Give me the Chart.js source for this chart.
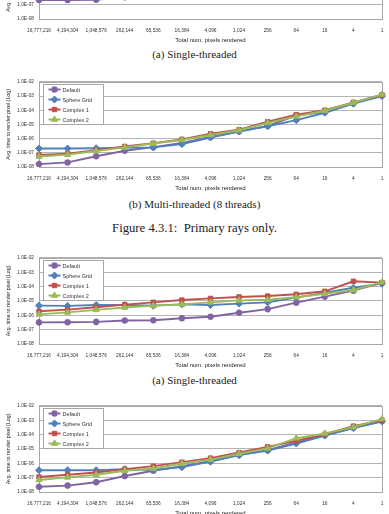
<!DOCTYPE html>
<html>
<head>
<meta charset="utf-8">
<script src="https://cdn.jsdelivr.net/npm/chart.js@4.4.0/dist/chart.umd.min.js"></script>
<style>
  html, body { margin: 0; padding: 0; background: #fff; }
  body { width: 389px; height: 514px; position: relative; overflow: hidden; }
  .chart { position: absolute; left: 0; width: 389px; }
  .cap { position: absolute; left: 0; width: 389px; text-align: center; white-space: nowrap; line-height: 1;
         font-family: "Liberation Serif", "DejaVu Serif", serif; color: #222; }
</style>
</head>
<body>
<div class="chart" style="top:-74px"><canvas id="fig1a" width="389" height="121"></canvas></div>
<div class="cap" style="top:49px;font-size:11px">(a) Single-threaded</div>

<div class="chart" style="top:74px"><canvas id="fig1b" width="389" height="121"></canvas></div>
<div class="cap" style="top:199px;font-size:11px">(b) Multi-threaded (8 threads)</div>
<div class="cap" style="top:222px;font-size:12.7px">Figure 4.3.1:&nbsp; Primary rays only.</div>

<div class="chart" style="top:250px"><canvas id="fig2a" width="389" height="122"></canvas></div>
<div class="cap" style="top:375px;font-size:11px">(a) Single-threaded</div>

<div class="chart" style="top:398px"><canvas id="fig2b" width="389" height="122"></canvas></div>

<script>
// categories and ticks
var xLabels = ["16,777,216", "4,194,304", "1,048,576", "262,144", "65,536", "16,384",
  "4,096", "1,024", "256", "64", "16", "4", "1"];
var yTickValues = [1e-8, 1e-7, 1e-6, 1e-5, 1e-4, 1e-3, 1e-2];
var yTickLabels = ["1.0E-08", "1.0E-07", "1.0E-06", "1.0E-05", "1.0E-04", "1.0E-03", "1.0E-02"];
var seriesNames = ["Default", "Sphere Grid", "Complex 1", "Complex 2"];

// Figure 4.3.1 (a) single-threaded (mostly above the page edge)
var fig1aDefault  = [2.2e-7, 2.2e-7, 2.3e-7, 3.5e-7, 5e-7, 9e-7, 2e-6, 5e-6, 1.2e-5, 3.5e-5, 9e-5, 3e-4, 1.1e-3];
var fig1aSphere   = [3.5e-6, 3.5e-6, 3.8e-6, 4e-6, 4e-6, 4.5e-6, 5e-6, 6e-6, 9e-6, 2e-5, 5e-5, 1.5e-4, 1.2e-3];
var fig1aComplex1 = [1.5e-6, 2e-6, 2.8e-6, 4e-6, 6e-6, 9e-6, 1.2e-5, 1.6e-5, 2.2e-5, 4e-5, 9e-5, 3e-4, 1.3e-3];
var fig1aComplex2 = [9e-7, 1.3e-6, 2e-6, 3e-6, 4e-6, 5e-6, 7e-6, 1e-5, 1.5e-5, 3.5e-5, 8e-5, 2.8e-4, 1.3e-3];

// Figure 4.3.1 (b) multi-threaded
var fig1bDefault  = [1.6e-8, 2.1e-8, 5.7e-8, 1.4e-7, 2.5e-7, 5e-7, 1.3e-6, 3.2e-6, 8e-6, 4.2e-5, 7.8e-5, 3.1e-4, 1.15e-3];
var fig1bSphere   = [2.0e-7, 2.0e-7, 2.1e-7, 2.3e-7, 2.4e-7, 4.1e-7, 1.2e-6, 3.3e-6, 7.4e-6, 2.0e-5, 6.7e-5, 2.9e-4, 1.0e-3];
var fig1bComplex1 = [7e-8, 8.7e-8, 1.55e-7, 2.8e-7, 4.8e-7, 8.9e-7, 2.2e-6, 4.3e-6, 1.55e-5, 4.9e-5, 1.0e-4, 3.6e-4, 1.2e-3];
var fig1bComplex2 = [5.5e-8, 7.5e-8, 1.35e-7, 2.4e-7, 4.5e-7, 8e-7, 1.8e-6, 3.9e-6, 1.3e-5, 3.7e-5, 9.2e-5, 3.4e-4, 1.3e-3];

// next figure (a) single-threaded
var fig2aDefault  = [3.2e-7, 3.3e-7, 3.5e-7, 4.3e-7, 4.5e-7, 6.2e-7, 8e-7, 1.5e-6, 2.7e-6, 7.6e-6, 2.0e-5, 5.2e-5, 1.8e-4];
var fig2aSphere   = [4.7e-6, 4.5e-6, 5.2e-6, 5.2e-6, 4.7e-6, 5.8e-6, 5.2e-6, 6.5e-6, 8e-6, 1.7e-5, 3.8e-5, 8.3e-5, 1.6e-4];
var fig2aComplex1 = [1.9e-6, 2.5e-6, 3.6e-6, 5.5e-6, 8e-6, 1.15e-5, 1.5e-5, 1.9e-5, 2.2e-5, 2.9e-5, 4.7e-5, 2.35e-4, 1.9e-4];
var fig2aComplex2 = [1.15e-6, 1.6e-6, 2.4e-6, 3.5e-6, 4.7e-6, 5.8e-6, 8e-6, 1.1e-5, 1.2e-5, 1.8e-5, 3.2e-5, 5.7e-5, 2.0e-4];

// next figure (b) multi-threaded (cut at bottom)
var fig2bDefault  = [2.3e-8, 2.8e-8, 4.8e-8, 1.3e-7, 3.0e-7, 6.3e-7, 1.4e-6, 3.9e-6, 8.1e-6, 2.8e-5, 9e-5, 3e-4, 8.5e-4];
var fig2bSphere   = [3.3e-7, 3.3e-7, 3.3e-7, 3.9e-7, 3.4e-7, 5.4e-7, 1.3e-6, 3.7e-6, 7.7e-6, 2.4e-5, 8.5e-5, 2.8e-4, 8.5e-4];
var fig2bComplex1 = [1.1e-7, 1.6e-7, 2.3e-7, 3.9e-7, 6.3e-7, 1.2e-6, 2.3e-6, 5.6e-6, 1.4e-5, 3.7e-5, 1.05e-4, 3.9e-4, 1.0e-3];
var fig2bComplex2 = [6.9e-8, 1.05e-7, 1.6e-7, 3.0e-7, 4.3e-7, 9.6e-7, 1.8e-6, 4.6e-6, 1.1e-5, 5.6e-5, 1.2e-4, 3.3e-4, 1.2e-3];

var colors = ["#8064a2", "#4f81bd", "#c0504d", "#9bbb59"];
var markers = ["star", "rectRot", "rect", "triangle"];
var radii = [3.3, 3.5, 3.1, 3.6];

Chart.defaults.font.family = '"Liberation Sans", Arial, sans-serif';
Chart.defaults.color = "#333";

// plot area frame
var plotFrame = {
  id: "plotFrame",
  beforeDatasetsDraw: function (chart) {
    var a = chart.chartArea, ctx = chart.ctx;
    ctx.save();
    ctx.strokeStyle = "#a6a6a6";
    ctx.lineWidth = 1;
    ctx.strokeRect(Math.round(a.left) + 0.5, Math.round(a.top) + 0.5,
      Math.round(a.right - a.left), Math.round(a.bottom - a.top));
    ctx.restore();
  }
};

// legend box drawn inside the plot area, like the Excel one
var boxLegend = {
  id: "boxLegend",
  afterDatasetsDraw: function (chart) {
    var a = chart.chartArea, ctx = chart.ctx;
    var x0 = Math.round(a.left) + 4.5, y0 = Math.round(a.top) + 2.5;
    ctx.save();
    ctx.fillStyle = "#fff";
    ctx.fillRect(x0, y0, 60, 40);
    ctx.strokeStyle = "#a6a6a6";
    ctx.lineWidth = 1;
    ctx.strokeRect(x0, y0, 60, 40);
    chart.data.datasets.forEach(function (ds, i) {
      var y = y0 + 5 + i * 10;
      ctx.strokeStyle = ds.borderColor;
      ctx.lineWidth = 1.9;
      ctx.beginPath();
      ctx.moveTo(x0 + 5, y);
      ctx.lineTo(x0 + 17, y);
      ctx.stroke();
      ctx.fillStyle = ds.pointBackgroundColor;
      ctx.lineWidth = ds.pointBorderWidth;
      Chart.helpers.drawPoint(ctx, { pointStyle: ds.pointStyle, radius: ds.pointRadius, borderWidth: ds.pointBorderWidth, rotation: 0 }, x0 + 11, y);
      ctx.fillStyle = "#333";
      ctx.font = '5.5px "Liberation Sans", Arial, sans-serif';
      ctx.textBaseline = "middle";
      ctx.textAlign = "left";
      ctx.fillText(ds.label, x0 + 19, y + 0.5);
    });
    ctx.restore();
  }
};

function makeChart(id, series) {
  var datasets = seriesNames.map(function (name, i) {
    return {
      label: name,
      data: series[i],
      borderColor: colors[i],
      backgroundColor: colors[i],
      pointBackgroundColor: colors[i],
      pointBorderColor: colors[i],
      pointStyle: markers[i],
      pointRadius: radii[i],
      pointBorderWidth: i === 0 ? 2 : 1,
      borderWidth: 1.9,
      tension: 0,
      order: 3 - i
    };
  });
  return new Chart(document.getElementById(id), {
    type: "line",
    data: { labels: xLabels, datasets: datasets },
    plugins: [plotFrame, boxLegend],
    options: {
      responsive: false,
      animation: false,
      devicePixelRatio: 1,
      layout: { padding: { top: 6, right: 7, left: 0, bottom: 0 } },
      plugins: { legend: { display: false }, tooltip: { enabled: false } },
      scales: {
        x: {
          offset: false,
          grid: { display: false },
          border: { display: false },
          ticks: { autoSkip: false, maxRotation: 0, minRotation: 0, padding: 1, font: { size: 4.8 }, color: "#333" },
          title: { display: true, text: "Total num. pixels rendered", font: { size: 6 }, color: "#222", padding: { top: 2, bottom: 3 } },
          afterFit: function (s) { s.height = 28; }
        },
        y: {
          type: "logarithmic",
          min: 1e-8,
          max: 1e-2,
          afterBuildTicks: function (s) {
            s.ticks = yTickValues.map(function (v) { return { value: v }; });
          },
          ticks: {
            callback: function (v, i) { return yTickLabels[i]; },
            padding: 5, font: { size: 4.8 }, color: "#333"
          },
          grid: { color: "#b4b4b4", lineWidth: 1, drawTicks: false },
          border: { display: false },
          title: { display: true, text: "Avg. time to render pixel (Log)", font: { size: 5.3 }, color: "#222", padding: { top: 5, bottom: 2 } },
          afterFit: function (s) { s.width = 39; }
        }
      }
    }
  });
}

makeChart("fig1a", [fig1aDefault, fig1aSphere, fig1aComplex1, fig1aComplex2]);
makeChart("fig1b", [fig1bDefault, fig1bSphere, fig1bComplex1, fig1bComplex2]);
makeChart("fig2a", [fig2aDefault, fig2aSphere, fig2aComplex1, fig2aComplex2]);
makeChart("fig2b", [fig2bDefault, fig2bSphere, fig2bComplex1, fig2bComplex2]);
</script>
</body>
</html>
